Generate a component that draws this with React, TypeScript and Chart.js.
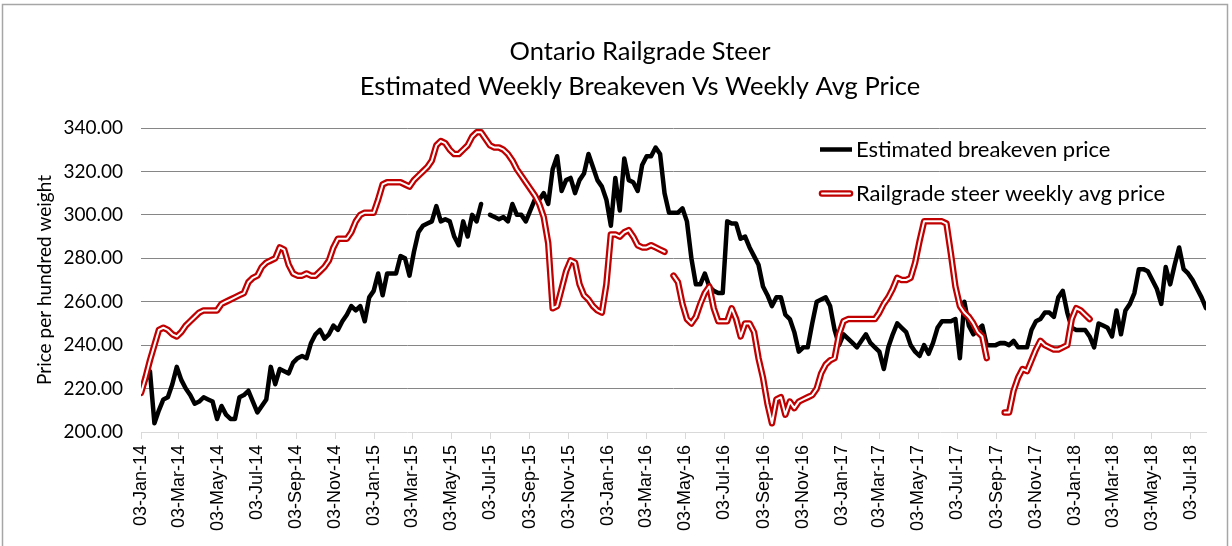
import React, { useEffect, useRef } from "react";
import { Chart, registerables } from "chart.js";

Chart.register(...registerables);

// ---- data ----
const titleLines = ["Ontario Railgrade Steer", "Estimated Weekly Breakeven Vs Weekly Avg Price"];
const yAxisTitle = "Price per hundred weight";
const seriesNames = ["Estimated breakeven price", "Railgrade steer weekly avg price"];

// first week of the weekly series
const startDate = "03-Jan-14";

const tickLabels = [
  "03-Jan-14", "03-Mar-14", "03-May-14", "03-Jul-14", "03-Sep-14", "03-Nov-14",
  "03-Jan-15", "03-Mar-15", "03-May-15", "03-Jul-15", "03-Sep-15", "03-Nov-15",
  "03-Jan-16", "03-Mar-16", "03-May-16", "03-Jul-16", "03-Sep-16", "03-Nov-16",
  "03-Jan-17", "03-Mar-17", "03-May-17", "03-Jul-17", "03-Sep-17", "03-Nov-17",
  "03-Jan-18", "03-Mar-18", "03-May-18", "03-Jul-18",
];

// weekly estimated breakeven price
const breakeven: (number | null)[] = [
  218, 224, 228, 204, 210, 215, 216, 222, 230, 224,
  220, 217, 213, 214, 216, 215, 214, 206, 212, 208,
  206, 206, 216, 217, 219, 214, 209, 212, 215, 230,
  222, 229, 228, 227, 232, 234, 235, 234, 241, 245,
  247, 243, 245, 249, 247, 251, 254, 258, 256, 258,
  251, 262, 265, 273, 263, 273, 273, 273, 281, 280,
  272, 283, 292, 295, 296, 297, 304, 297, 298, 297,
  290, 286, 297, 290, 300, 297, 305, null, 300, 299,
  298, 299, 297, 305, 300, 300, 297, 302, 307, 307,
  310, 305, 321, 327, 311, 316, 317, 310, 316, 319,
  328, 322, 316, 313, 307, 295, 317, 302, 326, 316,
  315, 311, 323, 327, 327, 331, 328, 310, 301, 301,
  301, 303, 297, 280, 268, 268, 273, 267, 265, 264,
  264, 297, 296, 296, 289, 290, 285, 281, 277, 267,
  263, 258, 262, 262, 254, 252, 246, 237, 239, 239,
  250, 260, 261, 262, 258, 247, 240, 245, 243, 241,
  239, 242, 245, 241, 239, 237, 229, 239, 245, 250,
  248, 246, 240, 237, 235, 240, 236, 241, 248, 251,
  251, 251, 252, 234, 260, 249, 245, 247, 249, 240,
  240, 240, 241, 241, 240, 242, 239, 239, 239, 247,
  251, 252, 255, 255, 253, 262, 265, 255, 248, 247,
  247, 247, 244, 239, 250, 249, 248, 244, 256, 245,
  256, 259, 264, 275, 275, 274, 270, 266, 259, 276,
  268, 277, 285, 275, 273, 270, 266, 262, 257,
];

// weekly railgrade steer average price
const railgrade: (number | null)[] = [
  218, 225, 233, 240, 247, 248, 247, 245, 244, 246,
  249, 251, 253, 255, 256, 256, 256, 256, 259, 260,
  261, 262, 263, 264, 269, 271, 272, 276, 278, 279,
  280, 285, 284, 277, 273, 272, 272, 273, 272, 272,
  274, 276, 279, 285, 289, 289, 289, 292, 297, 300,
  301, 301, 301, 307, 314, 315, 315, 315, 315, 314,
  313, 316, 318, 320, 322, 325, 332, 334, 333, 330,
  328, 328, 330, 332, 336, 338, 338, 335, 332, 331,
  331, 330, 328, 325, 321, 318, 315, 312, 309, 305,
  299, 287, 257, 258, 266, 274, 279, 278, 268, 263,
  261, 258, 256, 255, 268, 291, 291, 290, 292, 293,
  290, 286, 285, 285, 286, 285, 284, 283, null, 272,
  269, 259, 252, 250, 253, 259, 264, 267, 257, 251,
  251, 251, 257, 252, 244, 250, 250, 246, 234, 225,
  213, 204, 215, 216, 208, 214, 211, 214, 215, 216,
  217, 220, 227, 231, 233, 234, 245, 251, 252, 252,
  252, 252, 252, 252, 252, 255, 259, 262, 266, 271,
  270, 270, 271, 278, 288, 297, 297, 297, 297, 297,
  296, 282, 267, 258, 255, 253, 250, 246, 244, 234,
  null, null, null, 209, 209, 219, 225, 229, 228, 233,
  238, 242, 240, 239, 238, 238, 239, 240, 252, 257,
  256, 254, 252, null, null, null, null, null, null, null,
  null, null, null, null, null, null, null, null, null, null,
  null, null, null, null, null, null, null, null, null,
];

const yMin = 200;
const yMax = 340;
const yStep = 20;

// ---- helpers ----
const MONTHS: Record<string, number> = {
  Jan: 0, Feb: 1, Mar: 2, Apr: 3, May: 4, Jun: 5, Jul: 6, Aug: 7, Sep: 8, Oct: 9, Nov: 10, Dec: 11,
};
const toUTC = (s: string) => {
  const [d, m, y] = s.split("-");
  return Date.UTC(2000 + Number(y), MONTHS[m], Number(d));
};
const DAY = 86400000;
const startUTC = toUTC(startDate);
const tickDays = tickLabels.map((l) => Math.round((toUTC(l) - startUTC) / DAY));
const weekPoints = (arr: (number | null)[]) => arr.map((v, i) => ({ x: i * 7, y: v }));

const RED = "#C00000";
const GRID = "#868686";
const AXIS = "#d9d9d9";
const UI_FONT = "Lato, 'Open Sans', sans-serif";

const decorPlugin = {
  id: "decor",
  afterDraw(chart: any) {
    const { ctx, chartArea } = chart;
    ctx.save();
    // frame
    ctx.strokeStyle = "#a6a6a6";
    ctx.lineWidth = 1.5;
    ctx.strokeRect(2.5, 4.5, 1225, 600);

    // title
    ctx.fillStyle = "#000";
    ctx.textAlign = "center";
    ctx.textBaseline = "middle";
    ctx.font = `25.5px ${UI_FONT}`;
    ctx.fillText(titleLines[0], 640, 52);
    ctx.fillText(titleLines[1], 640, 87);

    // y axis title
    ctx.save();
    ctx.translate(45, (chartArea.top + chartArea.bottom) / 2);
    ctx.rotate(-Math.PI / 2);
    ctx.font = `19px ${UI_FONT}`;
    ctx.fillText(yAxisTitle, 0, 0);
    ctx.restore();

    // legend
    ctx.textAlign = "left";
    ctx.font = `22px ${UI_FONT}`;
    // black entry
    ctx.lineCap = "butt";
    ctx.strokeStyle = "#000";
    ctx.lineWidth = 4.5;
    ctx.beginPath();
    ctx.moveTo(820, 149.5);
    ctx.lineTo(852, 149.5);
    ctx.stroke();
    ctx.fillText(seriesNames[0], 856, 149.5);
    // red double entry
    ctx.lineCap = "round";
    ctx.strokeStyle = RED;
    ctx.lineWidth = 6.5;
    ctx.beginPath();
    ctx.moveTo(822, 193.5);
    ctx.lineTo(850, 193.5);
    ctx.stroke();
    ctx.strokeStyle = "#fff";
    ctx.lineWidth = 2;
    ctx.beginPath();
    ctx.moveTo(822, 193.5);
    ctx.lineTo(850, 193.5);
    ctx.stroke();
    ctx.fillText(seriesNames[1], 856, 193.5);
    ctx.restore();
  },
};

export default function App() {
  const ref = useRef<HTMLCanvasElement | null>(null);

  useEffect(() => {
    if (!ref.current) return;
    const lineBase = {
      pointRadius: 0,
      pointHoverRadius: 0,
      tension: 0,
      spanGaps: false,
      borderJoinStyle: "round" as const,
      borderCapStyle: "round" as const,
    };
    const chart = new Chart(ref.current, {
      type: "line",
      data: {
        datasets: [
          { ...lineBase, label: seriesNames[1] + " (inner)", data: weekPoints(railgrade), borderColor: "#ffffff", borderWidth: 2, order: 0 },
          { ...lineBase, label: seriesNames[1], data: weekPoints(railgrade), borderColor: RED, borderWidth: 6.5, order: 1 },
          { ...lineBase, label: seriesNames[0], data: weekPoints(breakeven), borderColor: "#000000", borderWidth: 4.5, order: 2 },
        ],
      },
      options: {
        responsive: false,
        animation: false,
        events: [],
        layout: { padding: { top: 128, right: 26, left: 0, bottom: 0 } },
        plugins: {
          legend: { display: false },
          title: { display: false },
          tooltip: { enabled: false },
        },
        scales: {
          x: {
            type: "linear",
            min: 0,
            max: (breakeven.length - 1) * 7,
            afterBuildTicks: (s: any) => {
              s.ticks = tickDays.map((v) => ({ value: v }));
            },
            afterFit: (s: any) => {
              s.height = 114;
            },
            ticks: {
              autoSkip: false,
              maxRotation: 90,
              minRotation: 90,
              padding: 6,
              color: "#000",
              font: { family: "'Liberation Sans', Arial, sans-serif", size: 18 },
              callback: (v: any) => {
                const k = tickDays.indexOf(Number(v));
                return k >= 0 ? tickLabels[k] : "";
              },
            },
            grid: { drawOnChartArea: false, drawTicks: true, tickLength: 7, color: AXIS },
            border: { display: true, color: AXIS, width: 1 },
          },
          y: {
            min: yMin,
            max: yMax,
            afterFit: (s: any) => {
              s.width = 141;
            },
            ticks: {
              stepSize: yStep,
              padding: 18,
              color: "#000",
              font: { family: UI_FONT, size: 19 },
              callback: (v: any) => Number(v).toFixed(2),
            },
            grid: {
              drawTicks: false,
              color: (c: any) => (c.tick && c.tick.value === yMin ? "rgba(0,0,0,0)" : GRID),
              lineWidth: 1,
            },
            border: { display: false },
          },
        },
      },
      plugins: [decorPlugin],
    });
    return () => chart.destroy();
  }, []);

  return (
    <div style={{ position: "absolute", left: 0, top: 0, width: 1232, height: 546, background: "#fff" }}>
      <canvas ref={ref} width={1232} height={546} />
    </div>
  );
}
